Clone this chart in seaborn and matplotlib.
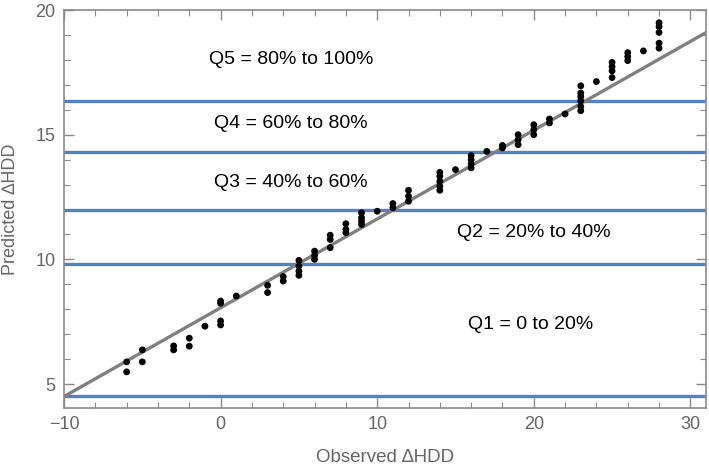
import matplotlib
matplotlib.use("Agg")
import matplotlib.pyplot as plt
import pandas as pd
import seaborn as sns
from matplotlib.ticker import MultipleLocator

# Observed vs predicted change in heating degree days
OBSERVED = [
    -6, -6, -5, -5, -3, -3, -2, -2, -1,
    0, 0, 0, 0, 1, 3, 3, 4, 4,
    5, 5, 5, 5, 6, 6, 6, 7, 7, 7,
    8, 8, 8, 9, 9, 9, 9, 10, 11, 11,
    12, 12, 12, 14, 14, 14, 14, 14, 15,
    16, 16, 16, 16, 17, 18, 18, 19, 19, 19,
    20, 20, 20, 21, 21, 22,
    23, 23, 23, 23, 23, 23, 24,
    25, 25, 25, 25, 26, 26, 26, 27,
    28, 28, 28, 28, 28,
]
PREDICTED = [
    5.89, 5.49, 6.37, 5.89, 6.53, 6.37, 6.84, 6.52, 7.32,
    8.33, 8.24, 7.53, 7.37, 8.53, 8.96, 8.67, 9.31, 9.13,
    9.96, 9.73, 9.53, 9.36, 10.33, 10.16, 10.0, 10.97, 10.8, 10.47,
    11.43, 11.2, 11.07, 11.87, 11.67, 11.53, 11.4, 11.93, 12.24, 12.07,
    12.77, 12.53, 12.33, 13.49, 13.33, 13.13, 12.93, 12.77, 13.6,
    14.16, 14.0, 13.83, 13.67, 14.33, 14.57, 14.47, 15.0, 14.8, 14.6,
    15.4, 15.2, 15.0, 15.63, 15.47, 15.83,
    16.96, 16.67, 16.53, 16.36, 16.13, 15.96, 17.13,
    17.9, 17.73, 17.56, 17.29, 18.29, 18.13, 17.97, 18.36,
    19.49, 19.33, 19.1, 18.67, 18.47,
]

# Fitted line and quintile boundaries
FIT_INTERCEPT = 8.06
FIT_SLOPE = 0.356
QUINTILE_BREAKS = [4.53, 9.8, 12.0, 14.29, 16.36]

QUINTILE_LABELS = [
    "Q5 = 80% to 100%",
    "Q4 = 60% to 80%",
    "Q3 = 40% to 60%",
    "Q2 = 20% to 40%",
    "Q1 = 0 to 20%",
]
LABEL_X = [4.5, 4.5, 4.5, 20.0, 19.8]
LABEL_Y = [18.0, 15.44, 13.09, 11.07, 7.4]

sns.set_style("ticks")
plt.rcParams["font.family"] = ["Liberation Sans", "DejaVu Sans"]

FRAME = "#8a8a8a"
TEXT_GREY = "#666666"
BLUE = "#5282c0"

df = pd.DataFrame({"observed": OBSERVED, "predicted": PREDICTED})

fig = plt.figure(figsize=(7.09, 4.72), dpi=100)
ax = fig.add_axes([0.0903, 0.1356, 0.9055, 0.8432])

for y in QUINTILE_BREAKS:
    ax.axhline(y, color=BLUE, lw=2.4, zorder=1)

ax.axline((0, FIT_INTERCEPT), slope=FIT_SLOPE, color="#808080", lw=2.4, zorder=2)

sns.scatterplot(data=df, x="observed", y="predicted", ax=ax, color="black",
                s=24, edgecolor="none", zorder=3, legend=False)

for label, x, y in zip(QUINTILE_LABELS, LABEL_X, LABEL_Y):
    ax.text(x, y, label, ha="center", va="center", fontsize=14, color="black")

ax.set_xlim(-10, 31)
ax.set_ylim(4.04, 20)
ax.xaxis.set_major_locator(MultipleLocator(10))
ax.xaxis.set_minor_locator(MultipleLocator(2))
ax.yaxis.set_major_locator(MultipleLocator(5))
ax.yaxis.set_minor_locator(MultipleLocator(1))
ax.tick_params(which="both", direction="in", top=True, right=True,
               color=FRAME, labelcolor=TEXT_GREY, labelsize=13, pad=6)
ax.tick_params(which="major", length=7, width=1)
ax.tick_params(which="minor", length=4, width=0.8)
for spine in ax.spines.values():
    spine.set_color(FRAME)
    spine.set_linewidth(1.2)

ax.set_xlabel("Observed \u2206HDD", color=TEXT_GREY, fontsize=13.5, labelpad=11)
ax.set_ylabel("Predicted \u2206HDD", color=TEXT_GREY, fontsize=13, labelpad=12)

fig.savefig("out.png", dpi=100)
plt.close(fig)
